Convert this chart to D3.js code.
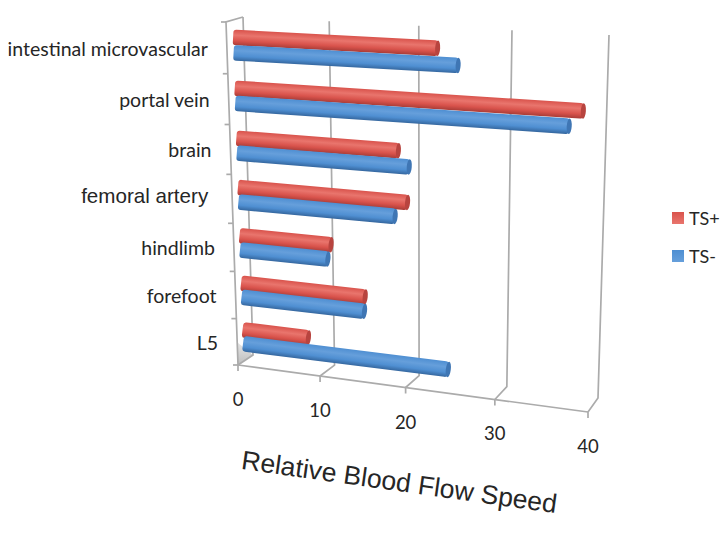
<!DOCTYPE html>
<html>
<head>
<meta charset="utf-8">
<style>
  html, body { margin: 0; padding: 0; background: #fff; }
  svg { display: block; }
  text { fill: #262626; font-family: 'Lato', 'Open Sans', sans-serif; }
</style>
</head>
<body>
<div id="chart"></div>
<script src="https://cdn.jsdelivr.net/npm/d3@7"></script>
<script>
var categories = [ 'intestinal microvascular', 'portal vein', 'brain', 'femoral artery', 'hindlimb', 'forefoot', 'L5' ],
    seriesNames = [ 'TS+', 'TS-' ],
    tsPlus  = [ 22.8, 38.1, 18.5, 19.5, 10.7, 14.6, 7.8 ],
    tsMinus = [ 25, 36.7, 19.7, 18.1, 10.3, 14.5, 24.1 ],
    valueTicks = [ 0, 10, 20, 30, 40 ],
    axisTitle = 'Relative Blood Flow Speed';

var width  = 725,
    height = 533,
    barRadius = 7.8;

var colors = {
  'TS+' : { light : '#e9756d', main : '#d9534c', dark : '#a93c37', cap : '#b8443f' },
  'TS-' : { light : '#669fdb', main : '#4f8fd2', dark : '#35679f', cap : '#3f76b4' }
};

// corners of the two walls of the box, as they sit in the picture
var frontPlane = homography( [ 226, 22 ], [ 600, 40 ], [ 238, 365 ], [ 588, 412 ] ),
    backPlane  = homography( [ 243, 17 ], [ 609, 35 ], [ 253, 355 ], [ 598, 398 ] );

// unit square -> quad
function homography( p00, p10, p01, p11 ) {
  var dx1 = p10[ 0 ] - p11[ 0 ],
      dx2 = p01[ 0 ] - p11[ 0 ],
      sx  = p00[ 0 ] - p10[ 0 ] + p11[ 0 ] - p01[ 0 ],
      dy1 = p10[ 1 ] - p11[ 1 ],
      dy2 = p01[ 1 ] - p11[ 1 ],
      sy  = p00[ 1 ] - p10[ 1 ] + p11[ 1 ] - p01[ 1 ],
      det = dx1 * dy2 - dx2 * dy1,
      g   = ( sx * dy2 - dx2 * sy ) / det,
      h   = ( dx1 * sy - sx * dy1 ) / det,
      a   = p10[ 0 ] - p00[ 0 ] + g * p10[ 0 ],
      b   = p01[ 0 ] - p00[ 0 ] + h * p01[ 0 ],
      d   = p10[ 1 ] - p00[ 1 ] + g * p10[ 1 ],
      e   = p01[ 1 ] - p00[ 1 ] + h * p01[ 1 ];

  return function( u, v ) {
    var w = g * u + h * v + 1;
    return [ ( a * u + b * v + p00[ 0 ] ) / w, ( d * u + e * v + p00[ 1 ] ) / w ];
  };
}

// depth 0 is the front wall, 1 the back wall
function project( u, v, depth ) {
  var f = frontPlane( u, v ),
      b = backPlane( u, v );
  return [ f[ 0 ] + ( b[ 0 ] - f[ 0 ] ) * depth, f[ 1 ] + ( b[ 1 ] - f[ 1 ] ) * depth ];
}

var valueScale = d3.scaleLinear().domain( [ 0, 40 ] ).range( [ 0, 1 ] ),
    rowScale   = d3.scaleBand().domain( categories ).range( [ 0, 1 ] ),
    laneScale  = d3.scaleBand().domain( seriesNames ).range( [ 0, rowScale.bandwidth() ] ).paddingOuter( 0.667 );

var rows = [];
categories.forEach( function( name, i ) {
  rows.push( { category : name, series : 'TS+', value : tsPlus[ i ] } );
  rows.push( { category : name, series : 'TS-', value : tsMinus[ i ] } );
} );

var svg = d3.select( '#chart' ).append( 'svg' )
            .attr( 'width', width )
            .attr( 'height', height ),
    defs = svg.append( 'defs' );

seriesNames.forEach( function( name, i ) {
  var c = colors[ name ],
      bar = defs.append( 'linearGradient' )
                .attr( 'id', 'bar' + i )
                .attr( 'x1', 0 ).attr( 'x2', 0 ).attr( 'y1', 0 ).attr( 'y2', 1 ),
      swatch = defs.append( 'linearGradient' )
                .attr( 'id', 'swatch' + i )
                .attr( 'x1', 0 ).attr( 'x2', 0 ).attr( 'y1', 0 ).attr( 'y2', 1 );

  bar.append( 'stop' ).attr( 'offset', '0%' ).attr( 'stop-color', c.main );
  bar.append( 'stop' ).attr( 'offset', '35%' ).attr( 'stop-color', c.light );
  bar.append( 'stop' ).attr( 'offset', '70%' ).attr( 'stop-color', c.main );
  bar.append( 'stop' ).attr( 'offset', '100%' ).attr( 'stop-color', c.dark );

  swatch.append( 'stop' ).attr( 'offset', '0%' ).attr( 'stop-color', c.main );
  swatch.append( 'stop' ).attr( 'offset', '100%' ).attr( 'stop-color', c.light );
} );

var wallFade = defs.append( 'linearGradient' )
                   .attr( 'id', 'wallFade' )
                   .attr( 'x1', 0 ).attr( 'x2', 0 ).attr( 'y1', 1 ).attr( 'y2', 0 );
wallFade.append( 'stop' ).attr( 'offset', '0%' ).attr( 'stop-color', '#bdbdbd' );
wallFade.append( 'stop' ).attr( 'offset', '100%' ).attr( 'stop-color', '#e6e6e6' );

// shaded corner of the side wall
var corner = [ project( 0, 1, 0 ), project( 0, 1, 1 ), project( 0, 0.93, 0 ) ];
svg.append( 'polygon' )
   .attr( 'points', corner.join( ' ' ) )
   .attr( 'fill', 'url(#wallFade)' );

var lineGen = d3.line();

function gridLine( points, w ) {
  svg.append( 'path' )
     .attr( 'd', lineGen( points ) )
     .attr( 'fill', 'none' )
     .attr( 'stroke', '#ababab' )
     .attr( 'stroke-width', w || 1.7 );
}

// value gridlines : up the back wall, across the floor, tick below the front edge
valueTicks.forEach( function( t ) {
  var u  = valueScale( t ),
      f  = project( u, 1, 0 ),
      b  = project( u, 1, 1 ),
      up = project( u, 0, 1 );

  gridLine( [ up, b, f, [ f[ 0 ], f[ 1 ] + 6 ] ] );
} );

gridLine( [ project( 0, 1, 0 ), project( 1, 1, 0 ) ] );
gridLine( [ project( 0, 0, 1 ), project( 0, 0, 0 ), project( 0, 1, 0 ) ] );

// category ticks on the side wall
d3.range( categories.length + 1 ).forEach( function( i ) {
  var p = project( 0, i / categories.length, 0 );
  gridLine( [ [ p[ 0 ] - 5, p[ 1 ] ], p ] );
} );

// bars, red one of each row over its blue one
var barGroups = svg.selectAll( '.bar' )
  .data( rows )
  .enter().append( 'g' )
  .attr( 'class', 'bar' )
  .attr( 'transform', function( d ) {
    var s = barEnds( d ),
        angle = Math.atan2( s[ 1 ][ 1 ] - s[ 0 ][ 1 ], s[ 1 ][ 0 ] - s[ 0 ][ 0 ] ) * 180 / Math.PI;
    return 'translate(' + s[ 0 ][ 0 ] + ',' + s[ 0 ][ 1 ] + ') rotate(' + angle + ')';
  } );

function barEnds( d ) {
  var v = rowScale( d.category ) + laneScale( d.series ) + laneScale.bandwidth() / 2;
  return [ project( 0, v, 0.5 ), project( valueScale( d.value ), v, 0.5 ) ];
}

function barLength( d ) {
  var s = barEnds( d );
  return Math.sqrt( Math.pow( s[ 1 ][ 0 ] - s[ 0 ][ 0 ], 2 ) + Math.pow( s[ 1 ][ 1 ] - s[ 0 ][ 1 ], 2 ) );
}

barGroups.append( 'rect' )
  .attr( 'x', -2 )
  .attr( 'y', -barRadius )
  .attr( 'height', barRadius * 2 )
  .attr( 'width', function( d ) { return barLength( d ) + 2; } )
  .attr( 'rx', 3 )
  .attr( 'fill', function( d ) { return 'url(#bar' + seriesNames.indexOf( d.series ) + ')'; } );

barGroups.append( 'ellipse' )
  .attr( 'cx', barLength )
  .attr( 'rx', 2.5 )
  .attr( 'ry', barRadius )
  .attr( 'fill', function( d ) { return colors[ d.series ].cap; } );

// category labels hang off the side wall, femoral artery was pasted in by hand in the original
function isPasted( d ) {
  return d === 'femoral artery';
}

svg.selectAll( '.category' )
  .data( categories )
  .enter().append( 'text' )
  .attr( 'class', 'category' )
  .attr( 'text-anchor', 'end' )
  .attr( 'dominant-baseline', 'middle' )
  .attr( 'font-size', function( d ) { return isPasted( d ) ? 20.6 : 19.5; } )
  .attr( 'x', function( d ) {
    return project( 0, rowScale( d ) + rowScale.bandwidth() / 2, 0 )[ 0 ] - ( isPasted( d ) ? 24 : 19 );
  } )
  .attr( 'y', function( d ) {
    return project( 0, rowScale( d ) + rowScale.bandwidth() / 2, 0 )[ 1 ] + ( isPasted( d ) ? -1 : 3 );
  } )
  .style( 'font-family', function( d ) { return isPasted( d ) ? "'Liberation Sans'" : null; } )
  .text( function( d ) { return d; } );

svg.selectAll( '.valueTick' )
  .data( valueTicks )
  .enter().append( 'text' )
  .attr( 'class', 'valueTick' )
  .attr( 'text-anchor', 'middle' )
  .attr( 'font-size', 18.5 )
  .attr( 'x', function( d ) { return project( valueScale( d ), 1, 0 )[ 0 ]; } )
  .attr( 'y', function( d ) { return project( valueScale( d ), 1, 0 )[ 1 ] + 41; } )
  .text( function( d ) { return d; } );

svg.append( 'text' )
  .attr( 'text-anchor', 'middle' )
  .attr( 'transform', 'translate(398,491) rotate(8)' )
  .style( 'font-family', "'Liberation Sans'" )
  .attr( 'font-size', 26.5 )
  .text( axisTitle );

// legend
var legend = svg.selectAll( '.legend' )
  .data( seriesNames )
  .enter().append( 'g' )
  .attr( 'class', 'legend' )
  .attr( 'transform', function( d, i ) { return 'translate(672,' + ( 212 + i * 38 ) + ')'; } );

legend.append( 'rect' )
  .attr( 'width', 12 )
  .attr( 'height', 12 )
  .attr( 'fill', function( d, i ) { return 'url(#swatch' + i + ')'; } );

legend.append( 'text' )
  .attr( 'x', 17 )
  .attr( 'y', 13 )
  .attr( 'font-size', 18 )
  .text( function( d ) { return d; } );
</script>
</body>
</html>
